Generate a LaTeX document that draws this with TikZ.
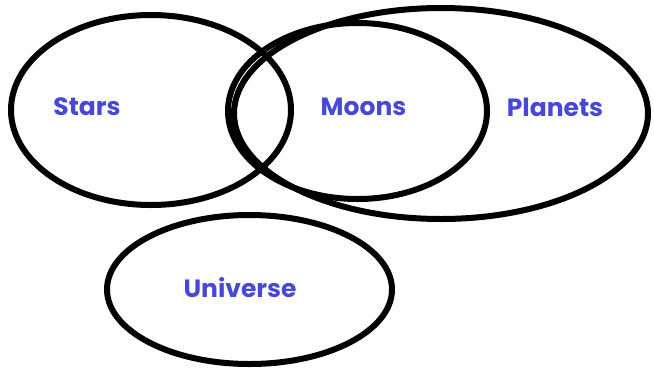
\documentclass[tikz,border=0pt]{standalone}
\usepackage{fontspec}
\setmainfont{Poppins}
\usetikzlibrary{shapes.geometric}
\definecolor{lbl}{RGB}{72,72,214}
\tikzset{
  setring/.style={ellipse, draw=black, line width=6pt, inner sep=0pt},
  setlabel/.style={text=lbl, font=\bfseries\fontsize{25}{28}\selectfont, inner sep=0pt}
}
\begin{document}
\begin{tikzpicture}[x=1pt,y=-1pt]
\useasboundingbox (0,0) rectangle (654,373);
\node[setring, minimum width=414pt, minimum height=211pt] (planets) at (441,113.5) {};
\node[setring, minimum width=259pt, minimum height=176pt] (moons) at (357.5,111) {};
\node[setring, minimum width=280pt, minimum height=190pt] (stars) at (151,110) {};
\node[setring, minimum width=285pt, minimum height=149pt] (universe) at (249.5,289.5) {};
\node[setlabel] (tstars) at (87,107) {Stars};
\node[setlabel] (tmoons) at (363.5,107) {Moons};
\node[setlabel] (tplanets) at (555,107) {Planets};
\node[setlabel] (tuniverse) at (240,288) {Universe};
\end{tikzpicture}
\end{document}
